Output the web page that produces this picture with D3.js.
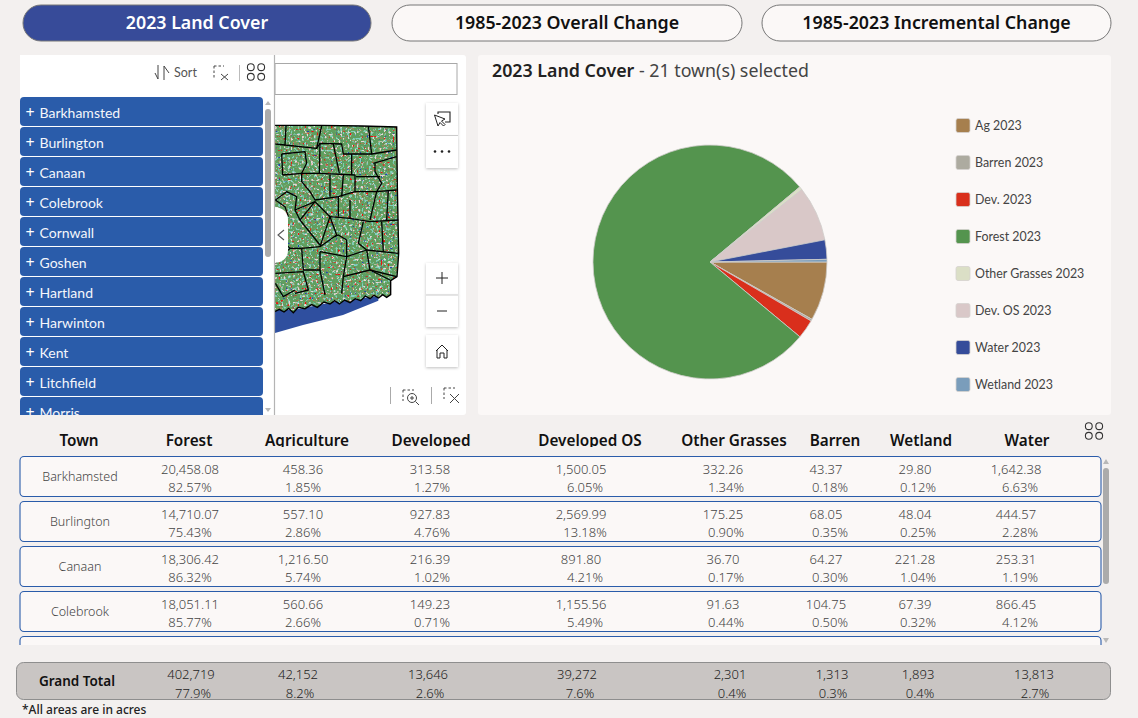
<!DOCTYPE html>
<html>
<head>
<meta charset="utf-8">
<title>2023 Land Cover</title>
<script src="https://cdn.jsdelivr.net/npm/d3@7"></script>
<style>
  html, body { margin: 0; padding: 0; background: #f3f0ef; overflow: hidden; }
  svg { display: block; font-family: "Noto Sans", sans-serif; }
  .soft { font-family: Lato, sans-serif; }
</style>
</head>
<body>
<div id="stage"></div>
<script>
var width = 1138;
var height = 718;

// PIE data
var coverLabels = ['Ag 2023', 'Barren 2023', 'Dev. 2023', 'Forest 2023', 'Other Grasses 2023', 'Dev. OS 2023', 'Water 2023', 'Wetland 2023'];
var coverTotals = [42152, 1313, 13646, 402719, 2301, 39272, 13813, 1893];
var coverColors = ['#a67f4e', '#adaba0', '#d92f1c', '#54944e', '#dbdfc6', '#d9c8c8', '#354c9a', '#7a9dbb'];

// TABLE data, the fifth row is scrolled away: only the tops of its acres show, so those are rough
var tableHeaders = ['Town', 'Forest', 'Agriculture', 'Developed', 'Developed OS', 'Other Grasses', 'Barren', 'Wetland', 'Water'];
var tableTowns = ['Barkhamsted', 'Burlington', 'Canaan', 'Colebrook', 'Cornwall'];
var forestAcres = [20458.08, 14710.07, 18306.42, 18051.11, 23691.50];
var forestPct = [82.57, 75.43, 86.32, 85.77];
var agAcres = [458.36, 557.10, 1216.50, 560.66, 1157.57];
var agPct = [1.85, 2.86, 5.74, 2.66];
var devAcres = [313.58, 927.83, 216.39, 149.23, 149.70];
var devPct = [1.27, 4.76, 1.02, 0.71];
var devOsAcres = [1500.05, 2569.99, 891.80, 1155.56, 1157.35];
var devOsPct = [6.05, 13.18, 4.21, 5.49];
var grassAcres = [332.26, 175.25, 36.70, 91.63, 41.44];
var grassPct = [1.34, 0.90, 0.17, 0.44];
var barrenAcres = [43.37, 68.05, 64.27, 104.75, 90.34];
var barrenPct = [0.18, 0.35, 0.30, 0.50];
var wetlandAcres = [29.80, 48.04, 221.28, 67.39, 118.25];
var wetlandPct = [0.12, 0.25, 1.04, 0.32];
var waterAcres = [1642.38, 444.57, 253.31, 866.45, 341.11];
var waterPct = [6.63, 2.28, 1.19, 4.12];

var grandAcres = [402719, 42152, 13646, 39272, 2301, 1313, 1893, 13813];
var grandPct = [77.9, 8.2, 2.6, 7.6, 0.4, 0.3, 0.4, 2.7];

var listTowns = ['Barkhamsted', 'Burlington', 'Canaan', 'Colebrook', 'Cornwall', 'Goshen', 'Hartland', 'Harwinton', 'Kent', 'Litchfield', 'Morris'];
var tabLabels = ['2023 Land Cover', '1985-2023 Overall Change', '1985-2023 Incremental Change'];

// MAP shapes, traced at 3x off the picture
var stateOutline = [[822,376],[965,376],[1085,378],[1190,381],[1192,560],[1196,760],[1191,830],[1172,842],[1172,884],[1160,892],[1148,884],[1136,894],[1122,886],[1110,896],[1096,888],[1082,902],[1066,896],[1050,908],[1034,900],[1018,912],[1004,902],[990,912],[972,906],[952,922],[935,914],[915,926],[895,922],[880,938],[866,925],[852,936],[838,928],[822,936]];
var soundOutline = [[822,930],[880,930],[1000,906],[1135,888],[1135,902],[1029,945],[909,975],[822,1000]];
var townLines = [
  [[858,378],[855,435],[950,445],[965,378]],
  [[826,432],[855,435]],
  [[950,445],[960,430],[1025,432],[1030,462],[1115,462],[1105,378]],
  [[1115,462],[1190,450]],
  [[960,430],[958,520]],
  [[1000,432],[1018,520]],
  [[845,462],[915,455],[920,490],[905,520]],
  [[845,462],[848,525]],
  [[848,525],[905,520],[958,520],[1065,525],[1065,575]],
  [[1055,462],[1055,525]],
  [[1120,490],[1190,470]],
  [[1125,490],[1125,515],[1145,550],[1130,575]],
  [[1065,575],[1130,575],[1110,660]],
  [[1068,530],[1140,530]],
  [[1165,570],[1160,660]],
  [[1130,575],[1190,570]],
  [[905,520],[905,545],[930,575],[945,600],[1015,590],[1065,575]],
  [[990,525],[990,590]],
  [[1030,525],[1025,590]],
  [[826,600],[860,575],[890,590],[885,630],[945,605],[900,660],[885,630]],
  [[826,600],[855,620],[865,650]],
  [[945,605],[990,650],[960,740]],
  [[1015,590],[1015,650]],
  [[1050,600],[1050,655]],
  [[990,650],[1050,655],[1110,665],[1195,660]],
  [[1090,665],[1075,730],[1100,750]],
  [[1145,665],[1150,755]],
  [[900,660],[960,735]],
  [[1100,750],[1195,760]],
  [[1100,750],[1110,810],[1190,830]],
  [[960,755],[1040,770],[1030,830]],
  [[905,745],[960,740],[1010,705],[990,650]],
  [[905,745],[910,810],[960,810],[960,755]],
  [[960,810],[975,885]],
  [[826,820],[910,815],[925,870],[885,880]],
  [[1030,830],[1110,810],[1170,840]],
  [[1040,770],[1100,750]],
  [[826,850],[850,890],[885,870]],
  [[1030,830],[1025,880]],
  [[1040,720],[1015,705],[1005,710]],
  [[870,745],[905,745]],
  [[826,700],[870,745],[826,790]],
  [[1040,720],[1040,770]]
];

// column centres for the value line, the percent line and the totals
var headerX = [79, 189, 307, 431, 590, 734, 835, 921, 1027];
var valueX = [190, 303, 430, 581, 723, 826, 915, 1016];
var pctX = [190, 303, 432, 585, 726, 830, 918, 1020];
var grandX = [191, 298, 428, 577, 730, 832, 918, 1034];
var grandPctX = [193, 300, 430, 580, 732, 833, 920, 1035];
var rowTop = d3.scaleLinear().domain([0, 1]).range([456.5, 501.5]);
var listTop = d3.scaleLinear().domain([0, 1]).range([97, 127]);

var fmt2 = d3.format(',.2f');
var fmt0 = d3.format(',');
var pctFmt = function(d) { return d.toFixed(2) + '%'; };
var grandPctFmt = function(d) { return d.toFixed(1) + '%'; };

var svg = d3.select('#stage')
            .append('svg')
            .attr('width', width)
            .attr('height', height);

var defs = svg.append('defs');

// speckle filters for the land cover map
var addSpeckle = function(id, seed, freq, color, gain, cut) {
  var f = defs.append('filter')
    .attr('id', id)
    .attr('x', 0).attr('y', 0).attr('width', 1).attr('height', 1)
    .attr('color-interpolation-filters', 'sRGB');
  f.append('feTurbulence')
    .attr('type', 'fractalNoise')
    .attr('baseFrequency', freq)
    .attr('numOctaves', 1)
    .attr('seed', seed);
  f.append('feColorMatrix')
    .attr('type', 'matrix')
    .attr('values', '0 0 0 0 ' + color[0] + ' 0 0 0 0 ' + color[1] + ' 0 0 0 0 ' + color[2] + ' ' + gain + ' 0 0 0 ' + cut);
};
addSpeckle('spTeal', 3, 0.42, [0.50, 0.82, 0.74], 10, -5.72);
addSpeckle('spPale', 8, 0.44, [0.90, 0.84, 0.84], 10, -6.0);
addSpeckle('spBrown', 5, 0.4, [0.60, 0.55, 0.35], 10, -6.1);
addSpeckle('spRed', 11, 0.42, [0.95, 0.05, 0.05], 12, -8.0);
addSpeckle('spBlue', 21, 0.42, [0.15, 0.25, 0.7], 12, -8.2);

var mapX = d3.scaleLinear().domain([0, 1440]).range([0, 480]);
var mapY = d3.scaleLinear().domain([0, 1260]).range([0, 420]);
var mapLine = d3.line().x(function(d) { return mapX(d[0]); }).y(function(d) { return mapY(d[1]); });

defs.append('clipPath').attr('id', 'mapClip')
  .append('rect').attr('x', 275).attr('y', 55).attr('width', 200).attr('height', 360);
defs.append('clipPath').attr('id', 'stateClip')
  .append('path').attr('d', mapLine(stateOutline) + 'Z');
defs.append('clipPath').attr('id', 'listClip')
  .append('rect').attr('x', 20).attr('y', 97).attr('width', 244).attr('height', 318);
defs.append('clipPath').attr('id', 'rowClip')
  .append('rect').attr('x', 15).attr('y', 450).attr('width', 1100).attr('height', 195);
defs.append('clipPath').attr('id', 'headClip')
  .append('rect').attr('x', 15).attr('y', 425).attr('width', 1060).attr('height', 22);
defs.append('clipPath').attr('id', 'grandClip')
  .append('rect').attr('x', 15).attr('y', 662).attr('width', 1100).attr('height', 37);

// TABS
var tabs = svg.selectAll('.tab')
  .data(tabLabels)
  .enter()
  .append('g')
  .attr('class', 'tab');
var tabX = [23, 392, 762];
var tabW = [348, 350, 349];
tabs.append('rect')
  .attr('x', function(d, i) { return tabX[i]; })
  .attr('y', 5)
  .attr('width', function(d, i) { return tabW[i]; })
  .attr('height', 36)
  .attr('rx', 18)
  .attr('fill', function(d, i) { return i === 0 ? '#374b99' : '#fbf8f7'; })
  .attr('stroke', '#777')
  .attr('stroke-width', 1);
tabs.append('text')
  .attr('x', function(d, i) { return tabX[i] + tabW[i] / 2; })
  .attr('y', 29)
  .attr('text-anchor', 'middle')
  .attr('font-size', 17.8)
  .attr('font-weight', 600)
  .attr('fill', function(d, i) { return i === 0 ? '#fff' : '#111'; })
  .text(function(d) { return d; });

// MAP panel
svg.append('rect').attr('x', 20).attr('y', 55).attr('width', 446).attr('height', 360).attr('rx', 3).attr('fill', '#fff');

var mapG = svg.append('g').attr('clip-path', 'url(#mapClip)');
mapG.append('path')
  .attr('d', mapLine(soundOutline) + 'Z')
  .attr('fill', '#2f4f9f');
var land = mapG.append('g').attr('clip-path', 'url(#stateClip)');
var landLayers = [['#5f9f5f', null], ['', 'spBrown'], ['', 'spTeal'], ['', 'spPale'], ['', 'spBlue'], ['', 'spRed']];
land.selectAll('rect')
  .data(landLayers)
  .enter()
  .append('rect')
  .attr('x', 275).attr('y', 120).attr('width', 130).attr('height', 195)
  .attr('fill', function(d) { return d[0] || '#000'; })
  .attr('filter', function(d) { return d[1] ? 'url(#' + d[1] + ')' : null; });
mapG.selectAll('.townline')
  .data(townLines)
  .enter()
  .append('path')
  .attr('class', 'townline')
  .attr('d', mapLine)
  .attr('fill', 'none')
  .attr('stroke', '#000')
  .attr('stroke-width', 1.3)
  .attr('stroke-linejoin', 'round');
mapG.append('path')
  .attr('d', mapLine(stateOutline))
  .attr('fill', 'none')
  .attr('stroke', '#000')
  .attr('stroke-width', 1.4);

// search box
svg.append('rect').attr('x', 275).attr('y', 63.5).attr('width', 182).attr('height', 31).attr('fill', '#fff').attr('stroke', '#a8a8a8').attr('stroke-width', 1);

// map buttons
var mapButtons = [[426, 103, 32], [426, 136, 32], [426, 263, 32], [426, 295, 32], [426, 335, 32]];
svg.selectAll('.mapbtn')
  .data(mapButtons)
  .enter()
  .append('rect')
  .attr('class', 'mapbtn')
  .attr('x', function(d) { return d[0]; })
  .attr('y', function(d) { return d[1]; })
  .attr('width', 32)
  .attr('height', function(d) { return d[2]; })
  .attr('fill', '#fff')
  .style('filter', 'drop-shadow(0 1px 1.5px rgba(0,0,0,.25))');
var icon = svg.append('g').attr('fill', 'none').attr('stroke', '#222').attr('stroke-width', 1);
icon.append('path').attr('d', 'M426 135.5H458 M426 295H458').attr('stroke', '#ccc');
icon.append('path').attr('d', 'M438 114V112H450V122H445').attr('stroke-width', 1.1);
icon.append('path').attr('d', 'M434.5 115L438 126L440 122.5L443.5 126L445 124.5L441.5 121L445 119Z').attr('fill', '#fff');
icon.append('path').attr('d', 'M436 278H448 M442 272V284').attr('stroke-width', 1);
icon.append('path').attr('d', 'M437 311H447');
icon.append('path').attr('d', 'M436 351L442 345L448 351 M437 350V358H440V353H444V358H447V350');
svg.selectAll('.dotdot').data([0, 1, 2]).enter().append('circle')
  .attr('class', 'dotdot').attr('cx', function(d) { return 435 + d * 7; }).attr('cy', 151.5).attr('r', 1.3).attr('fill', '#222');

// bottom map tools
var tool = svg.append('g').attr('fill', 'none').attr('stroke', '#444').attr('stroke-width', 1);
tool.append('path').attr('d', 'M390.5 387V404 M431.5 387V404').attr('stroke', '#aaa');
tool.append('path').attr('d', 'M403 390H414 M403 390V401').attr('stroke-dasharray', '2.5 2');
tool.append('circle').attr('cx', 412).attr('cy', 398).attr('r', 4.5);
tool.append('path').attr('d', 'M415.5 401.5L419 405 M410 398H414 M412 396V400');
tool.append('path').attr('d', 'M444 388H455 M444 388V399').attr('stroke-dasharray', '2.5 2');
tool.append('path').attr('d', 'M450 394L459 403 M459 394L450 403');

// TOWN list overlay
svg.append('rect').attr('x', 20).attr('y', 55).attr('width', 254).attr('height', 360).attr('fill', '#fff');
svg.append('path').attr('d', 'M274.5 55V415').attr('stroke', '#b4b4b4').attr('stroke-width', 1.2);
var listItems = svg.append('g').attr('clip-path', 'url(#listClip)')
  .selectAll('g')
  .data(listTowns)
  .enter()
  .append('g');
listItems.append('rect')
  .attr('x', 20)
  .attr('y', function(d, i) { return listTop(i); })
  .attr('width', 243)
  .attr('height', 29)
  .attr('rx', 4)
  .attr('fill', '#2a5caa');
listItems.append('text')
  .attr('x', 30)
  .attr('y', function(d, i) { return listTop(i) + 21; })
  .attr('text-anchor', 'middle')
  .attr('font-size', 16)
  .attr('fill', '#fff')
  .text('+');
listItems.append('text')
  .attr('class', 'soft')
  .attr('x', 39.5)
  .attr('y', function(d, i) { return listTop(i) + 21; })
  .attr('font-size', 14)
  .attr('fill', '#f4f6fb')
  .text(function(d) { return d; });

// list scrollbar
svg.append('rect').attr('x', 265).attr('y', 109).attr('width', 6).attr('height', 148).attr('rx', 3).attr('fill', '#ababab');
svg.append('path').attr('d', 'M265 105L268 101L271 105Z M265 408L268 412L271 408Z').attr('fill', '#b8b8b8');

// list toolbar
var bar = svg.append('g').attr('fill', 'none').attr('stroke', '#444').attr('stroke-width', 1);
bar.append('path').attr('d', 'M155 73L158 79V65 M164 80V66L169 73');
bar.append('path').attr('d', 'M214 66H224 M214 66V78').attr('stroke-dasharray', '2.5 2');
bar.append('path').attr('d', 'M221 74L228 80 M228 74L221 80');
bar.append('path').attr('d', 'M239.5 65V81').attr('stroke', '#bbb');
svg.append('text').attr('class', 'soft').attr('x', 174).attr('y', 77).attr('font-size', 12.5).attr('fill', '#555').text('Sort');

var fourDots = function(cx, cy) {
  svg.selectAll('.fd' + cx)
    .data([[-1, -1], [1, -1], [-1, 1], [1, 1]])
    .enter()
    .append('circle')
    .attr('class', 'fd' + cx)
    .attr('cx', function(d) { return cx + d[0] * 5.2; })
    .attr('cy', function(d) { return cy + d[1] * 4.8; })
    .attr('r', 3.4)
    .attr('fill', 'none')
    .attr('stroke', '#333')
    .attr('stroke-width', 1.1);
};
fourDots(256, 72);
fourDots(1094, 431);

// collapse handle
svg.append('path').attr('d', 'M275 207C284 208 288 213 288 220V250C288 257 284 262 275 263Z').attr('fill', '#fff');
svg.append('path').attr('d', 'M284 230L278 235L284 240').attr('fill', 'none').attr('stroke', '#555').attr('stroke-width', 1.1);

// PIE panel
svg.append('rect').attr('x', 478).attr('y', 55).attr('width', 633).attr('height', 360).attr('rx', 3).attr('fill', '#fbf8f7');
var title = svg.append('text').attr('x', 492).attr('y', 77).attr('font-size', 17.8).attr('fill', '#444');
title.append('tspan').attr('font-weight', 600).attr('fill', '#222').text('2023 Land Cover');
title.append('tspan').text(' - 21 town(s) selected');

var pie = d3.pie().sort(null).startAngle(Math.PI / 2).endAngle(Math.PI * 2.5);
var arc = d3.arc().innerRadius(0).outerRadius(117);
svg.append('g')
  .attr('transform', 'translate(710,262)')
  .selectAll('path')
  .data(pie(coverTotals))
  .enter()
  .append('path')
  .attr('d', arc)
  .attr('fill', function(d, i) { return coverColors[i]; })
  .attr('stroke', '#cfcdca')
  .attr('stroke-width', 0.8);

// LEGEND
var legendY = d3.scaleLinear().domain([0, 1]).range([125.5, 162.5]);
var legend = svg.selectAll('.legend')
  .data(coverLabels)
  .enter()
  .append('g')
  .attr('class', 'legend');
legend.append('rect')
  .attr('x', 956)
  .attr('y', function(d, i) { return legendY(i) - 7; })
  .attr('width', 14)
  .attr('height', 14)
  .attr('rx', 2)
  .attr('fill', function(d, i) { return coverColors[i]; })
  .attr('stroke', '#d5d2cf')
  .attr('stroke-width', 0.8);
legend.append('text')
  .attr('class', 'soft')
  .attr('x', 975)
  .attr('y', function(d, i) { return legendY(i) + 4.5; })
  .attr('font-size', 12.4)
  .attr('fill', '#444')
  .text(function(d) { return d; });

// TABLE header
svg.append('g').attr('clip-path', 'url(#headClip)')
  .selectAll('text')
  .data(tableHeaders)
  .enter()
  .append('text')
  .attr('x', function(d, i) { return headerX[i]; })
  .attr('y', 446)
  .attr('text-anchor', 'middle')
  .attr('font-size', 15.3)
  .attr('font-weight', 600)
  .attr('fill', '#111')
  .text(function(d) { return d; });

// TABLE rows
var acreCols = [forestAcres, agAcres, devAcres, devOsAcres, grassAcres, barrenAcres, wetlandAcres, waterAcres];
var pctCols = [forestPct, agPct, devPct, devOsPct, grassPct, barrenPct, wetlandPct, waterPct];
var rows = svg.append('g').attr('clip-path', 'url(#rowClip)')
  .selectAll('g')
  .data(tableTowns)
  .enter()
  .append('g');
rows.append('rect')
  .attr('x', 20)
  .attr('y', function(d, i) { return rowTop(i); })
  .attr('width', 1081)
  .attr('height', 40)
  .attr('rx', 4)
  .attr('fill', '#fbf8f7')
  .attr('stroke', '#2a5caa')
  .attr('stroke-width', 1.1);
rows.each(function(d, r) {
  var row = d3.select(this);
  row.selectAll('.val')
    .data(acreCols)
    .enter()
    .append('text')
    .attr('class', 'val')
    .attr('x', function(c, i) { return valueX[i]; })
    .attr('y', rowTop(r) + 17)
    .attr('text-anchor', 'middle')
    .attr('font-size', 13)
    .attr('font-weight', 300)
    .attr('fill', '#444')
    .text(function(c) { return fmt2(c[r]); });
  // the scrolled row shows nothing below its first line
  if (r > 3) return;
  row.append('text')
    .attr('x', 80)
    .attr('y', rowTop(r) + 24.5)
    .attr('text-anchor', 'middle')
    .attr('font-size', 12.5)
    .attr('font-weight', 300)
    .attr('fill', '#444')
    .text(d);
  row.selectAll('.pct')
    .data(pctCols)
    .enter()
    .append('text')
    .attr('class', 'pct')
    .attr('x', function(c, i) { return pctX[i]; })
    .attr('y', rowTop(r) + 35)
    .attr('text-anchor', 'middle')
    .attr('font-size', 13)
    .attr('font-weight', 300)
    .attr('fill', '#444')
    .text(function(c) { return pctFmt(c[r]); });
});

// table scrollbar
svg.append('rect').attr('x', 1103).attr('y', 468).attr('width', 6).attr('height', 116).attr('rx', 3).attr('fill', '#ababab');
svg.append('path').attr('d', 'M1103 464L1106 459L1109 464Z M1103 638L1106 643L1109 638Z').attr('fill', '#b8b8b8');

// GRAND total
svg.append('rect').attr('x', 16.5).attr('y', 662.5).attr('width', 1094).attr('height', 37).attr('rx', 7).attr('fill', '#c9c5c3').attr('stroke', '#8e8e8e').attr('stroke-width', 1);
svg.append('text').attr('x', 77).attr('y', 686).attr('text-anchor', 'middle').attr('font-size', 13.5).attr('font-weight', 600).attr('fill', '#111').text('Grand Total');
var grand = svg.append('g').attr('clip-path', 'url(#grandClip)');
grand.selectAll('.gv')
  .data(grandAcres)
  .enter()
  .append('text')
  .attr('class', 'gv')
  .attr('x', function(d, i) { return grandX[i]; })
  .attr('y', 679)
  .attr('text-anchor', 'middle')
  .attr('font-size', 13)
  .attr('font-weight', 300)
  .attr('fill', '#222')
  .text(function(d) { return fmt0(d); });
grand.selectAll('.gp')
  .data(grandPct)
  .enter()
  .append('text')
  .attr('class', 'gp')
  .attr('x', function(d, i) { return grandPctX[i]; })
  .attr('y', 698)
  .attr('text-anchor', 'middle')
  .attr('font-size', 13)
  .attr('font-weight', 300)
  .attr('fill', '#222')
  .text(function(d) { return grandPctFmt(d); });

svg.append('text').attr('x', 22).attr('y', 714).attr('font-size', 12).attr('font-weight', 500).attr('fill', '#222').text('*All areas are in acres');
</script>
</body>
</html>
